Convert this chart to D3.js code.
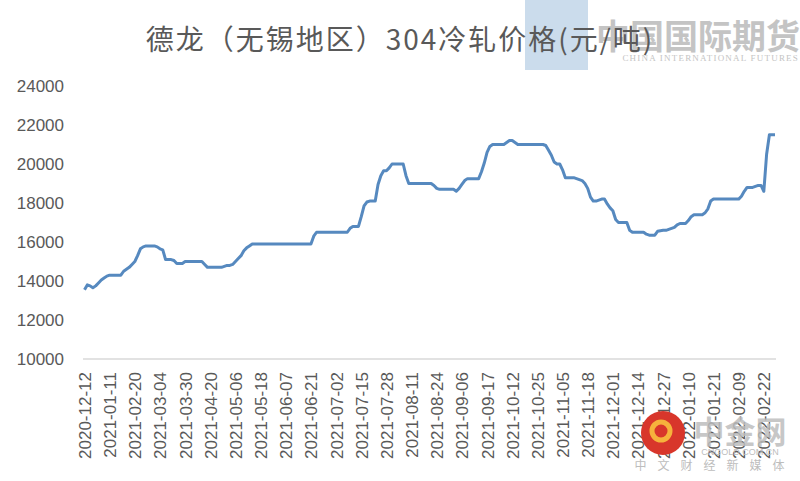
<!DOCTYPE html>
<html>
<head>
<meta charset="utf-8">
<script src="https://cdn.jsdelivr.net/npm/d3@7"></script>
<style>
  html, body { margin: 0; padding: 0; background: #fff; }
  svg { display: block; }
</style>
</head>
<body>
<script>
// Tick labels on the category axis, one every 9 data points
const tickDates = [
  "2020-12-12", "2021-01-11", "2021-02-20", "2021-03-04", "2021-03-30", "2021-04-20",
  "2021-05-06", "2021-05-18", "2021-06-07", "2021-06-21", "2021-07-02", "2021-07-15",
  "2021-07-28", "2021-08-11", "2021-08-24", "2021-09-06", "2021-09-17", "2021-10-12",
  "2021-10-25", "2021-11-05", "2021-11-18", "2021-12-01", "2021-12-14", "2021-12-27",
  "2022-01-10", "2022-01-21", "2022-02-09", "2022-02-22"
];
const tickEvery = 9;

// Price (yuan/ton), one row per label interval
const prices = [
  13550, 13800, 13750, 13650, 13750, 13900, 14050, 14150, 14250,
  14300, 14300, 14300, 14300, 14300, 14500, 14600, 14700, 14850,
  15000, 15300, 15650, 15750, 15800, 15800, 15800, 15800, 15750,
  15650, 15600, 15100, 15100, 15100, 15050, 14900, 14900, 14900,
  15000, 15000, 15000, 15000, 15000, 15000, 15000, 14850, 14700,
  14700, 14700, 14700, 14700, 14700, 14750, 14800, 14800, 14850,
  15000, 15150, 15300, 15550, 15700, 15800, 15900, 15900, 15900,
  15900, 15900, 15900, 15900, 15900, 15900, 15900, 15900, 15900,
  15900, 15900, 15900, 15900, 15900, 15900, 15900, 15900, 15900,
  15900, 16300, 16500, 16500, 16500, 16500, 16500, 16500, 16500,
  16500, 16500, 16500, 16500, 16500, 16700, 16800, 16800, 16800,
  17300, 17850, 18050, 18100, 18100, 18100, 18950, 19400, 19650,
  19650, 19800, 20000, 20000, 20000, 20000, 20000, 19400, 19000,
  19000, 19000, 19000, 19000, 19000, 19000, 19000, 19000, 18900,
  18750, 18700, 18700, 18700, 18700, 18700, 18700, 18600, 18750,
  18950, 19150, 19250, 19250, 19250, 19250, 19250, 19600, 20050,
  20600, 20900, 21000, 21000, 21000, 21000, 21000, 21100, 21200,
  21200, 21100, 21000, 21000, 21000, 21000, 21000, 21000, 21000,
  21000, 21000, 21000, 20950, 20700, 20450, 20100, 20000, 20000,
  19700, 19300, 19300, 19300, 19300, 19250, 19200, 19150, 19000,
  18750, 18300, 18100, 18100, 18150, 18200, 18200, 17950, 17750,
  17600, 17150, 17000, 17000, 17000, 17000, 16600, 16500, 16500,
  16500, 16500, 16500, 16400, 16350, 16350, 16350, 16550, 16580,
  16600, 16600, 16650, 16700, 16750, 16880, 16950, 16950, 16950,
  17100, 17300, 17400, 17400, 17400, 17400, 17500, 17700, 18100,
  18200, 18200, 18200, 18200, 18200, 18200, 18200, 18200, 18200,
  18200, 18350, 18600, 18800, 18800, 18800, 18850, 18900, 18900,
  18600, 20500, 21500, 21500, 21500
];
const yTicks = [10000, 12000, 14000, 16000, 18000, 20000, 22000, 24000];

const title = "德龙（无锡地区）304冷轧价格(元/吨)";

const width = 800, height = 481;
const plot = { left: 84.5, right: 775, top: 86, bottom: 359 };
const textColor = "#595959";
const labelFont = "'Liberation Sans', Arial, sans-serif";

const svg = d3.select("body").append("svg")
  .attr("width", width)
  .attr("height", height);

// --- watermark behind the chart (top right) ---
svg.append("rect")
  .attr("x", 525).attr("y", 0).attr("width", 63).attr("height", 70)
  .attr("fill", "#cbdcec");
svg.append("text")
  .attr("x", 800).attr("y", 49)
  .attr("text-anchor", "end")
  .attr("font-family", "'Noto Sans CJK SC', sans-serif")
  .attr("font-weight", "bold")
  .attr("font-size", 34)
  .attr("fill", "#c4c4c4")
  .text("中国国际期货");
svg.append("text")
  .attr("x", 799).attr("y", 61)
  .attr("text-anchor", "end")
  .attr("font-family", "'Liberation Serif', serif")
  .attr("font-size", 9)
  .attr("letter-spacing", 1.2)
  .attr("fill", "#c4c4c4")
  .text("CHINA INTERNATIONAL FUTURES");

// --- title ---
svg.append("text")
  .attr("x", 400).attr("y", 50)
  .attr("text-anchor", "middle")
  .attr("font-family", "'Noto Sans CJK SC', sans-serif")
  .attr("font-size", 28)
  .attr("letter-spacing", 2)
  .attr("fill", textColor)
  .text(title);

// Scales
const x = d3.scaleLinear().domain([0, prices.length - 1]).range([plot.left, plot.right]);
const y = d3.scaleLinear().domain([10000, 24000]).range([plot.bottom, plot.top]);

// y axis (labels only)
const yAxis = svg.append("g")
  .attr("transform", `translate(83,0)`)
  .call(d3.axisLeft(y).tickValues(yTicks).tickSize(0).tickPadding(19).tickFormat(d3.format("d")));
yAxis.select(".domain").remove();
yAxis.selectAll("text")
  .attr("font-family", labelFont)
  .attr("font-size", 17)
  .attr("fill", textColor);

// x axis
const tickIdx = tickDates.map((d, i) => i * tickEvery);
const xAxis = svg.append("g")
  .attr("transform", `translate(0,${plot.bottom})`)
  .call(d3.axisBottom(x).tickValues(tickIdx).tickSize(0).tickFormat((d, i) => tickDates[i]));
xAxis.select(".domain")
  .attr("d", `M83,0H776`)
  .attr("stroke", "#d9d9d9")
  .attr("stroke-width", 1.5);
xAxis.selectAll("text")
  .attr("font-family", labelFont)
  .attr("font-size", 17)
  .attr("fill", textColor)
  .attr("text-anchor", "end")
  .attr("transform", "rotate(-90)")
  .attr("x", -13)
  .attr("y", 0)
  .attr("dy", "0.35em");

// Price line
const line = d3.line()
  .x((d, i) => x(i))
  .y(d => y(d));
svg.append("path")
  .datum(prices)
  .attr("fill", "none")
  .attr("stroke", "#5689bf")
  .attr("stroke-width", 3)
  .attr("stroke-linejoin", "round")
  .attr("d", line);

// --- watermark (bottom right) ---
const logo = svg.append("g");
logo.append("circle")
  .attr("cx", 663).attr("cy", 433).attr("r", 22)
  .attr("fill", "#d8362b");
logo.append("circle")
  .attr("cx", 661).attr("cy", 431).attr("r", 9)
  .attr("fill", "none")
  .attr("stroke", "#f6b23c")
  .attr("stroke-width", 5);
logo.append("text")
  .attr("x", 740).attr("y", 443)
  .attr("text-anchor", "middle")
  .attr("font-family", "'Noto Sans CJK SC', sans-serif")
  .attr("font-weight", "bold")
  .attr("font-size", 31)
  .attr("fill", "#bdbdbd")
  .attr("fill-opacity", 0.85)
  .text("中金网");
logo.append("text")
  .attr("x", 740).attr("y", 455)
  .attr("text-anchor", "middle")
  .attr("font-family", labelFont)
  .attr("font-size", 9)
  .attr("fill", "#bdbdbd")
  .text("CNGOLD.COM.CN");
logo.append("text")
  .attr("x", 715).attr("y", 470)
  .attr("text-anchor", "middle")
  .attr("font-family", "'Noto Sans CJK SC', sans-serif")
  .attr("font-size", 12)
  .attr("letter-spacing", 11)
  .attr("fill", "#bdbdbd")
  .text("中文财经新媒体");
</script>
</body>
</html>
